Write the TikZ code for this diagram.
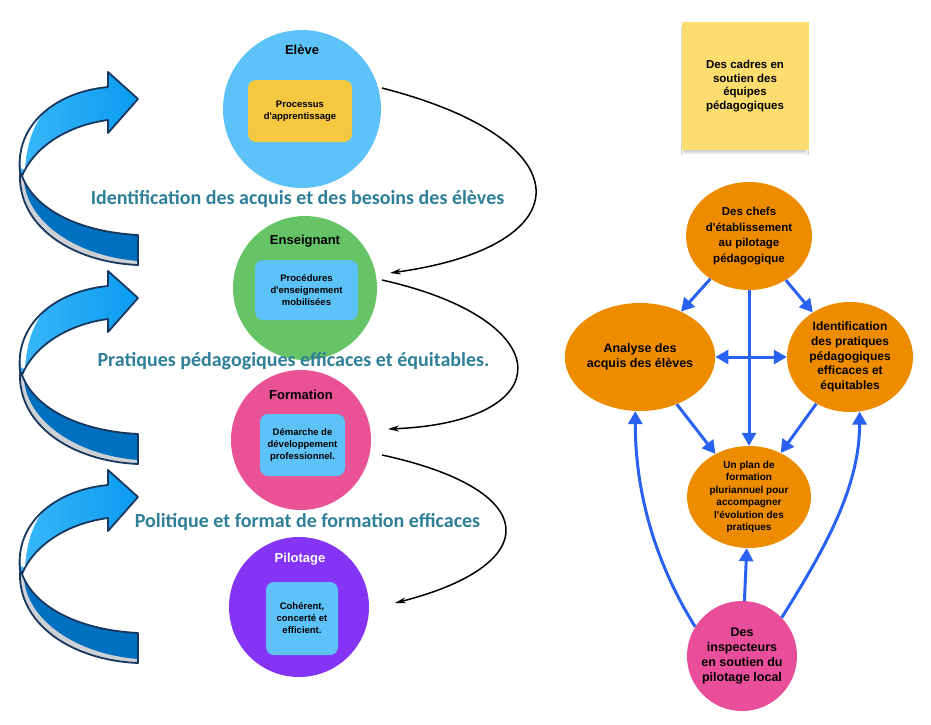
\documentclass[tikz,border=0pt]{standalone}
\usepackage{fontspec}
\setmainfont{Liberation Sans}
\newfontfamily\calib{Carlito}
\usetikzlibrary{shapes.geometric,arrows.meta,shadows.blur}
\definecolor{eleveblue}{RGB}{92,194,247}
\definecolor{boxyellow}{RGB}{246,200,66}
\definecolor{ensgreen}{RGB}{102,196,102}
\definecolor{formpink}{RGB}{234,82,150}
\definecolor{pilpurple}{RGB}{132,52,245}
\definecolor{orangec}{RGB}{238,140,0}
\definecolor{insppink}{RGB}{233,78,155}
\definecolor{arrowblue}{RGB}{41,98,240}
\definecolor{tealtext}{RGB}{46,127,152}
\definecolor{stickyyellow}{RGB}{253,221,110}
\definecolor{navyline}{RGB}{23,55,94}
\definecolor{darkband}{RGB}{0,112,192}
\definecolor{brightband}{RGB}{10,155,240}
\definecolor{lightband}{RGB}{60,185,250}
\definecolor{greyband}{RGB}{205,208,212}
\newcommand{\ap}{\textquotesingle}
\tikzset{
  bigcirc/.style={circle,inner sep=0pt,draw=none},
  ibox/.style={rounded corners=8pt,inner sep=0pt,align=center,font=\fontsize{9.5}{12}\selectfont\bfseries},
  ctitle/.style={inner sep=0pt,font=\fontsize{13}{15}\selectfont\bfseries},
  blackarrow/.style={draw=black,line width=1.5pt,-{Stealth[length=11pt,width=6pt]}},
  tealcap/.style={inner sep=0pt,text=tealtext,font=\calib\fontsize{20}{24}\selectfont\bfseries},
  oval/.style={ellipse,fill=orangec,inner sep=0pt,align=center,minimum width=126pt,minimum height=108pt},
  barrow/.style={draw=arrowblue,line width=3pt,-{Triangle[length=13pt,width=14pt]}},
  bdarrow/.style={draw=arrowblue,line width=3pt,{Triangle[length=13pt,width=14pt]}-{Triangle[length=13pt,width=14pt]}},
  bandline/.style={draw=navyline,line width=1.8pt,line join=round}
}
\begin{document}
\begin{tikzpicture}[x=1pt,y=-1pt]
\useasboundingbox[fill=white] (0,0) rectangle (931,724);

% ---------- left spiral arrows ----------
\foreach \dy in {0,199,398}{
\begin{scope}[shift={(0,\dy)}]
  \fill[greyband] (20,174) .. controls (18,225) and (70,262) .. (138,265) -- (138,235) .. controls (80,232) and (35,210) .. (22,176) -- cycle;
  \fill[darkband] (24,180) .. controls (27,222) and (76,256) .. (138,261) -- (138,235) .. controls (80,232) and (35,210) .. (22,176) -- cycle;
  \path[bandline] (20,174) .. controls (18,225) and (70,262) .. (138,265) -- (138,235) .. controls (80,232) and (35,210) .. (22,176) -- cycle;
  \shade[left color=lightband,right color=brightband] (108,87) -- (108,72) -- (138,99) -- (108,133) -- (108,120) .. controls (70,125) and (35,145) .. (22,176) -- (20,172) .. controls (15,125) and (55,92) .. (108,87) -- cycle;
  \fill[white] (21,168) .. controls (17,135) and (30,110) .. (62,95) .. controls (38,112) and (27,135) .. (25,170) -- cycle;
  \path[bandline] (108,87) -- (108,72) -- (138,99) -- (108,133) -- (108,120) .. controls (70,125) and (35,145) .. (22,176) -- (20,172) .. controls (15,125) and (55,92) .. (108,87) -- cycle;
\end{scope}}

% ---------- left column circles ----------
\node[bigcirc,fill=eleveblue,minimum size=158pt] (eleve) at (302,109) {};
\node[bigcirc,fill=ensgreen,minimum size=144pt] (ens) at (305,288) {};
\node[bigcirc,fill=formpink,minimum size=140pt] (form) at (301,440) {};
\node[bigcirc,fill=pilpurple,minimum size=140pt] (pil) at (299,607) {};

\node[ctitle] (televe) at (302,50) {Elève};
\node[ctitle] (tens) at (305,241) {Enseignant};
\node[ctitle] (tform) at (301,395) {Formation};
\node[ctitle,text=white] (tpil) at (300,559) {Pilotage};

\node[ibox,fill=boxyellow,minimum width=104pt,minimum height=62pt] (beleve) at (300,111) {Processus\\d\ap apprentissage};
\node[ibox,fill=eleveblue,minimum width=103pt,minimum height=60pt] (bens) at (306.5,290) {Procédures\\d\ap enseignement\\mobilisées};
\node[ibox,fill=eleveblue,minimum width=85pt,minimum height=62pt] (bform) at (302.5,445) {Démarche de\\développement\\professionnel.};
\node[ibox,fill=eleveblue,minimum width=72pt,minimum height=73pt] (bpil) at (302,618.5) {Cohérent,\\concerté et\\efficient.};

% ---------- teal captions ----------
\node[tealcap] (cap1) at (297.5,199) {Identification des acquis et des besoins des élèves};
\node[tealcap] (cap2) at (293.5,361) {Pratiques pédagogiques efficaces et équitables.};
\node[tealcap] (cap3) at (307.5,522) {Politique et format de formation efficaces};

% ---------- black curved arrows ----------
\coordinate (s1) at (382,88);
\coordinate (e1) at (390,273);
\coordinate (s2) at (382,280);
\coordinate (e2) at (388,429);
\coordinate (s3) at (382,455);
\coordinate (e3) at (395,603);
\draw[blackarrow] (s1) .. controls (585,140) and (585,246) .. (e1);
\draw[blackarrow] (s2) .. controls (561,320) and (561,422) .. (e2);
\draw[blackarrow] (s3) .. controls (544,490) and (544,565) .. (e3);

% ---------- sticky note ----------
\node[fill=stickyyellow,minimum width=127pt,minimum height=128pt,inner sep=0pt,align=center,
      blur shadow={shadow xshift=0pt,shadow yshift=-5pt,shadow scale=0.97,shadow blur steps=8,shadow opacity=20},
      font=\fontsize{11.5}{13.5}\selectfont\bfseries] (sticky) at (745,86) {Des cadres en\\soutien des\\équipes\\pédagogiques};

% ---------- right diagram ----------
\node[oval,font=\fontsize{11.5}{15.5}\selectfont\bfseries] (chefs) at (749,236) {Des chefs\\d\ap établissement\\au pilotage\\pédagogique};
\node[oval,font=\fontsize{12.5}{15}\selectfont\bfseries] (analyse) at (640,357) {Analyse des\\acquis des élèves};
\node[oval,minimum height=110pt,font=\fontsize{12}{14.6}\selectfont\bfseries] (ident) at (850,357) {Identification\\des pratiques\\pédagogiques\\efficaces et\\équitables};
\node[oval,minimum width=124pt,minimum height=102pt,font=\fontsize{10}{12.5}\selectfont\bfseries] (plan) at (749,497) {Un plan de\\formation\\pluriannuel pour\\accompagner\\l\ap évolution des\\pratiques};
\node[bigcirc,fill=insppink,minimum size=110pt,align=center,font=\fontsize{12.5}{15.2}\selectfont\bfseries] (insp) at (742,656) {Des\\inspecteurs\\en soutien du\\pilotage local};

\draw[barrow] (chefs) -- (analyse);
\draw[barrow] (chefs) -- (ident);
\draw[barrow] (chefs) -- (plan);
\draw[bdarrow] (analyse) -- (ident);
\draw[barrow] (analyse) -- (plan);
\draw[barrow] (ident) -- (plan);
\draw[barrow] (insp) -- (plan);
\draw[barrow] (insp.148) to[out=122,in=-90,looseness=0.9] (analyse.265);
\draw[barrow] (insp.44) to[out=58,in=-90,looseness=0.9] (ident.-80);
\end{tikzpicture}
\end{document}
